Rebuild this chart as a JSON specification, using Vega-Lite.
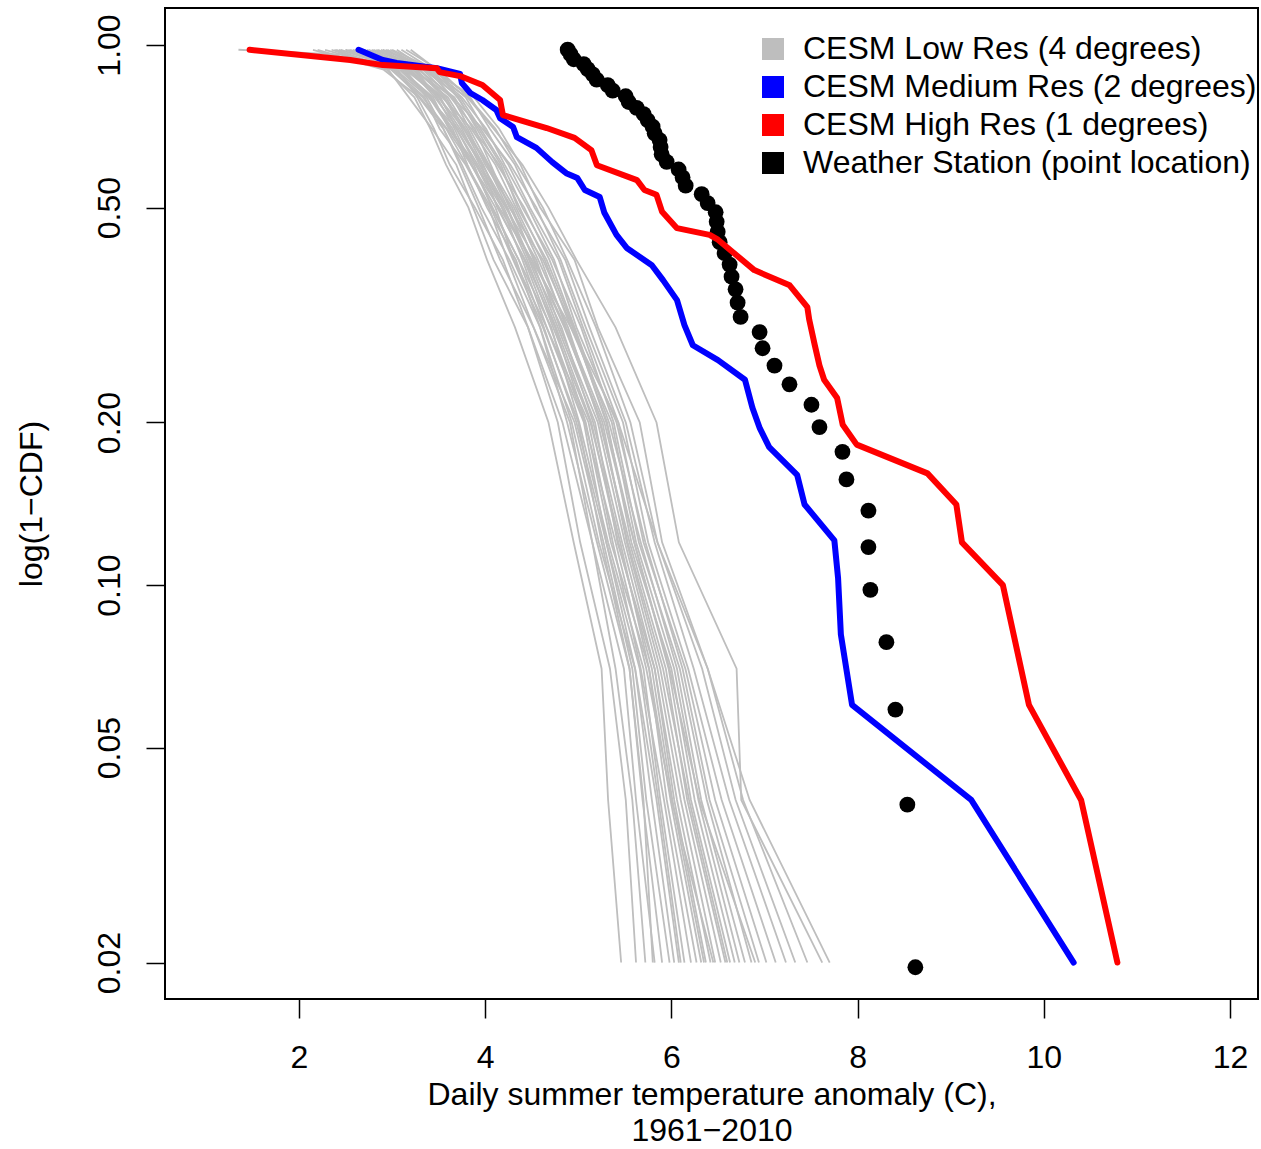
{
"$schema":"https://vega.github.io/schema/vega-lite/v6.json",
"width":1093,"height":991,
"autosize":{"type":"none"},
"padding":{"left":165,"top":8,"right":3,"bottom":150},
"background":"white",
"config":{
"view":{"stroke":"black","strokeWidth":2},
"font":"Liberation Sans",
"axis":{"domain":false,"grid":false,"tickColor":"black","tickWidth":1.5,"tickSize":19,"labelFont":"Liberation Sans","labelFontSize":32,"labelColor":"black","titleFont":"Liberation Sans","titleFontSize":32,"titleFontWeight":"normal","titleColor":"black","labelOverlap":false,"labelFlush":false,"labelBound":false}
},
"datasets":{
"gray":[
{"m":1,"x":2.20,"y":0.98},{"m":1,"x":2.94,"y":0.90},{"m":1,"x":3.24,"y":0.80},{"m":1,"x":3.41,"y":0.70},{"m":1,"x":3.58,"y":0.60},{"m":1,"x":3.82,"y":0.50},{"m":1,"x":4.02,"y":0.40},{"m":1,"x":4.32,"y":0.30},{"m":1,"x":4.68,"y":0.20},{"m":1,"x":4.95,"y":0.12},{"m":1,"x":5.25,"y":0.07},{"m":1,"x":5.32,"y":0.04},{"m":1,"x":5.46,"y":0.02},
{"m":2,"x":2.35,"y":0.98},{"m":2,"x":2.96,"y":0.90},{"m":2,"x":3.18,"y":0.80},{"m":2,"x":3.43,"y":0.70},{"m":2,"x":3.69,"y":0.60},{"m":2,"x":3.87,"y":0.50},{"m":2,"x":4.09,"y":0.40},{"m":2,"x":4.46,"y":0.30},{"m":2,"x":4.78,"y":0.20},{"m":2,"x":5.02,"y":0.12},{"m":2,"x":5.34,"y":0.07},{"m":2,"x":5.51,"y":0.04},{"m":2,"x":5.62,"y":0.02},
{"m":3,"x":2.53,"y":0.98},{"m":3,"x":3.06,"y":0.90},{"m":3,"x":3.27,"y":0.80},{"m":3,"x":3.45,"y":0.70},{"m":3,"x":3.62,"y":0.60},{"m":3,"x":3.89,"y":0.50},{"m":3,"x":4.19,"y":0.40},{"m":3,"x":4.46,"y":0.30},{"m":3,"x":4.83,"y":0.20},{"m":3,"x":5.15,"y":0.12},{"m":3,"x":5.40,"y":0.07},{"m":3,"x":5.58,"y":0.04},{"m":3,"x":5.72,"y":0.02},
{"m":4,"x":2.15,"y":0.98},{"m":4,"x":2.91,"y":0.90},{"m":4,"x":3.29,"y":0.80},{"m":4,"x":3.55,"y":0.70},{"m":4,"x":3.73,"y":0.60},{"m":4,"x":3.93,"y":0.50},{"m":4,"x":4.16,"y":0.40},{"m":4,"x":4.52,"y":0.30},{"m":4,"x":4.91,"y":0.20},{"m":4,"x":5.15,"y":0.12},{"m":4,"x":5.49,"y":0.07},{"m":4,"x":5.62,"y":0.04},{"m":4,"x":5.82,"y":0.02},
{"m":5,"x":2.70,"y":0.98},{"m":5,"x":3.14,"y":0.90},{"m":5,"x":3.37,"y":0.80},{"m":5,"x":3.55,"y":0.70},{"m":5,"x":3.75,"y":0.60},{"m":5,"x":3.96,"y":0.50},{"m":5,"x":4.26,"y":0.40},{"m":5,"x":4.59,"y":0.30},{"m":5,"x":4.88,"y":0.20},{"m":5,"x":5.20,"y":0.12},{"m":5,"x":5.55,"y":0.07},{"m":5,"x":5.69,"y":0.04},{"m":5,"x":5.90,"y":0.02},
{"m":6,"x":2.40,"y":0.98},{"m":6,"x":3.02,"y":0.90},{"m":6,"x":3.35,"y":0.80},{"m":6,"x":3.51,"y":0.70},{"m":6,"x":3.79,"y":0.60},{"m":6,"x":4.04,"y":0.50},{"m":6,"x":4.24,"y":0.40},{"m":6,"x":4.52,"y":0.30},{"m":6,"x":4.96,"y":0.20},{"m":6,"x":5.27,"y":0.12},{"m":6,"x":5.58,"y":0.07},{"m":6,"x":5.73,"y":0.04},{"m":6,"x":5.98,"y":0.02},
{"m":7,"x":2.58,"y":0.98},{"m":7,"x":3.12,"y":0.90},{"m":7,"x":3.41,"y":0.80},{"m":7,"x":3.65,"y":0.70},{"m":7,"x":3.81,"y":0.60},{"m":7,"x":4.02,"y":0.50},{"m":7,"x":4.33,"y":0.40},{"m":7,"x":4.59,"y":0.30},{"m":7,"x":4.93,"y":0.20},{"m":7,"x":5.22,"y":0.12},{"m":7,"x":5.61,"y":0.07},{"m":7,"x":5.79,"y":0.04},{"m":7,"x":6.03,"y":0.02},
{"m":8,"x":2.85,"y":0.98},{"m":8,"x":3.25,"y":0.90},{"m":8,"x":3.48,"y":0.80},{"m":8,"x":3.67,"y":0.70},{"m":8,"x":3.85,"y":0.60},{"m":8,"x":4.11,"y":0.50},{"m":8,"x":4.31,"y":0.40},{"m":8,"x":4.66,"y":0.30},{"m":8,"x":5.06,"y":0.20},{"m":8,"x":5.30,"y":0.12},{"m":8,"x":5.61,"y":0.07},{"m":8,"x":5.84,"y":0.04},{"m":8,"x":6.08,"y":0.02},
{"m":9,"x":2.45,"y":0.98},{"m":9,"x":3.10,"y":0.90},{"m":9,"x":3.44,"y":0.80},{"m":9,"x":3.61,"y":0.70},{"m":9,"x":3.88,"y":0.60},{"m":9,"x":4.07,"y":0.50},{"m":9,"x":4.36,"y":0.40},{"m":9,"x":4.71,"y":0.30},{"m":9,"x":5.01,"y":0.20},{"m":9,"x":5.32,"y":0.12},{"m":9,"x":5.70,"y":0.07},{"m":9,"x":5.88,"y":0.04},{"m":9,"x":6.14,"y":0.02},
{"m":10,"x":2.28,"y":0.98},{"m":10,"x":3.04,"y":0.90},{"m":10,"x":3.39,"y":0.80},{"m":10,"x":3.69,"y":0.70},{"m":10,"x":3.90,"y":0.60},{"m":10,"x":4.18,"y":0.50},{"m":10,"x":4.40,"y":0.40},{"m":10,"x":4.66,"y":0.30},{"m":10,"x":5.11,"y":0.20},{"m":10,"x":5.37,"y":0.12},{"m":10,"x":5.67,"y":0.07},{"m":10,"x":5.92,"y":0.04},{"m":10,"x":6.21,"y":0.02},
{"m":11,"x":2.75,"y":0.98},{"m":11,"x":3.20,"y":0.90},{"m":11,"x":3.46,"y":0.80},{"m":11,"x":3.71,"y":0.70},{"m":11,"x":3.96,"y":0.60},{"m":11,"x":4.13,"y":0.50},{"m":11,"x":4.43,"y":0.40},{"m":11,"x":4.75,"y":0.30},{"m":11,"x":5.08,"y":0.20},{"m":11,"x":5.35,"y":0.12},{"m":11,"x":5.76,"y":0.07},{"m":11,"x":5.95,"y":0.04},{"m":11,"x":6.27,"y":0.02},
{"m":12,"x":2.63,"y":0.98},{"m":12,"x":3.17,"y":0.90},{"m":12,"x":3.52,"y":0.80},{"m":12,"x":3.69,"y":0.70},{"m":12,"x":3.92,"y":0.60},{"m":12,"x":4.20,"y":0.50},{"m":12,"x":4.45,"y":0.40},{"m":12,"x":4.73,"y":0.30},{"m":12,"x":5.13,"y":0.20},{"m":12,"x":5.45,"y":0.12},{"m":12,"x":5.76,"y":0.07},{"m":12,"x":5.99,"y":0.04},{"m":12,"x":6.32,"y":0.02},
{"m":13,"x":2.95,"y":0.98},{"m":13,"x":3.30,"y":0.90},{"m":13,"x":3.58,"y":0.80},{"m":13,"x":3.77,"y":0.70},{"m":13,"x":3.98,"y":0.60},{"m":13,"x":4.18,"y":0.50},{"m":13,"x":4.50,"y":0.40},{"m":13,"x":4.78,"y":0.30},{"m":13,"x":5.18,"y":0.20},{"m":13,"x":5.42,"y":0.12},{"m":13,"x":5.82,"y":0.07},{"m":13,"x":6.03,"y":0.04},{"m":13,"x":6.37,"y":0.02},
{"m":14,"x":2.50,"y":0.98},{"m":14,"x":3.15,"y":0.90},{"m":14,"x":3.50,"y":0.80},{"m":14,"x":3.77,"y":0.70},{"m":14,"x":4.02,"y":0.60},{"m":14,"x":4.24,"y":0.50},{"m":14,"x":4.48,"y":0.40},{"m":14,"x":4.82,"y":0.30},{"m":14,"x":5.16,"y":0.20},{"m":14,"x":5.47,"y":0.12},{"m":14,"x":5.82,"y":0.07},{"m":14,"x":6.06,"y":0.04},{"m":14,"x":6.42,"y":0.02},
{"m":15,"x":2.78,"y":0.98},{"m":15,"x":3.26,"y":0.90},{"m":15,"x":3.56,"y":0.80},{"m":15,"x":3.75,"y":0.70},{"m":15,"x":3.94,"y":0.60},{"m":15,"x":4.22,"y":0.50},{"m":15,"x":4.55,"y":0.40},{"m":15,"x":4.80,"y":0.30},{"m":15,"x":5.21,"y":0.20},{"m":15,"x":5.50,"y":0.12},{"m":15,"x":5.85,"y":0.07},{"m":15,"x":6.10,"y":0.04},{"m":15,"x":6.47,"y":0.02},
{"m":16,"x":2.65,"y":0.98},{"m":16,"x":3.23,"y":0.90},{"m":16,"x":3.60,"y":0.80},{"m":16,"x":3.81,"y":0.70},{"m":16,"x":4.00,"y":0.60},{"m":16,"x":4.29,"y":0.50},{"m":16,"x":4.52,"y":0.40},{"m":16,"x":4.85,"y":0.30},{"m":16,"x":5.26,"y":0.20},{"m":16,"x":5.52,"y":0.12},{"m":16,"x":5.88,"y":0.07},{"m":16,"x":6.14,"y":0.04},{"m":16,"x":6.53,"y":0.02},
{"m":17,"x":3.05,"y":0.98},{"m":17,"x":3.38,"y":0.90},{"m":17,"x":3.65,"y":0.80},{"m":17,"x":3.83,"y":0.70},{"m":17,"x":4.04,"y":0.60},{"m":17,"x":4.31,"y":0.50},{"m":17,"x":4.57,"y":0.40},{"m":17,"x":4.89,"y":0.30},{"m":17,"x":5.23,"y":0.20},{"m":17,"x":5.55,"y":0.12},{"m":17,"x":5.94,"y":0.07},{"m":17,"x":6.17,"y":0.04},{"m":17,"x":6.58,"y":0.02},
{"m":18,"x":2.43,"y":0.98},{"m":18,"x":3.14,"y":0.90},{"m":18,"x":3.54,"y":0.80},{"m":18,"x":3.85,"y":0.70},{"m":18,"x":4.11,"y":0.60},{"m":18,"x":4.33,"y":0.50},{"m":18,"x":4.60,"y":0.40},{"m":18,"x":4.87,"y":0.30},{"m":18,"x":5.28,"y":0.20},{"m":18,"x":5.60,"y":0.12},{"m":18,"x":5.97,"y":0.07},{"m":18,"x":6.21,"y":0.04},{"m":18,"x":6.63,"y":0.02},
{"m":19,"x":2.88,"y":0.98},{"m":19,"x":3.33,"y":0.90},{"m":19,"x":3.63,"y":0.80},{"m":19,"x":3.89,"y":0.70},{"m":19,"x":4.06,"y":0.60},{"m":19,"x":4.26,"y":0.50},{"m":19,"x":4.62,"y":0.40},{"m":19,"x":4.94,"y":0.30},{"m":19,"x":5.31,"y":0.20},{"m":19,"x":5.57,"y":0.12},{"m":19,"x":6.00,"y":0.07},{"m":19,"x":6.25,"y":0.04},{"m":19,"x":6.68,"y":0.02},
{"m":20,"x":2.73,"y":0.98},{"m":20,"x":3.28,"y":0.90},{"m":20,"x":3.67,"y":0.80},{"m":20,"x":3.87,"y":0.70},{"m":20,"x":4.15,"y":0.60},{"m":20,"x":4.37,"y":0.50},{"m":20,"x":4.64,"y":0.40},{"m":20,"x":4.92,"y":0.30},{"m":20,"x":5.36,"y":0.20},{"m":20,"x":5.62,"y":0.12},{"m":20,"x":6.03,"y":0.07},{"m":20,"x":6.29,"y":0.04},{"m":20,"x":6.73,"y":0.02},
{"m":21,"x":2.98,"y":0.98},{"m":21,"x":3.39,"y":0.90},{"m":21,"x":3.71,"y":0.80},{"m":21,"x":3.91,"y":0.70},{"m":21,"x":4.13,"y":0.60},{"m":21,"x":4.42,"y":0.50},{"m":21,"x":4.69,"y":0.40},{"m":21,"x":4.96,"y":0.30},{"m":21,"x":5.33,"y":0.20},{"m":21,"x":5.67,"y":0.12},{"m":21,"x":6.06,"y":0.07},{"m":21,"x":6.32,"y":0.04},{"m":21,"x":6.79,"y":0.02},
{"m":22,"x":2.80,"y":0.98},{"m":22,"x":3.34,"y":0.90},{"m":22,"x":3.73,"y":0.80},{"m":22,"x":3.95,"y":0.70},{"m":22,"x":4.19,"y":0.60},{"m":22,"x":4.40,"y":0.50},{"m":22,"x":4.72,"y":0.40},{"m":22,"x":5.03,"y":0.30},{"m":22,"x":5.38,"y":0.20},{"m":22,"x":5.65,"y":0.12},{"m":22,"x":6.09,"y":0.07},{"m":22,"x":6.38,"y":0.04},{"m":22,"x":6.86,"y":0.02},
{"m":23,"x":2.90,"y":0.98},{"m":23,"x":3.41,"y":0.90},{"m":23,"x":3.75,"y":0.80},{"m":23,"x":4.01,"y":0.70},{"m":23,"x":4.21,"y":0.60},{"m":23,"x":4.46,"y":0.50},{"m":23,"x":4.74,"y":0.40},{"m":23,"x":4.98,"y":0.30},{"m":23,"x":5.41,"y":0.20},{"m":23,"x":5.72,"y":0.12},{"m":23,"x":6.12,"y":0.07},{"m":23,"x":6.41,"y":0.04},{"m":23,"x":6.94,"y":0.02},
{"m":24,"x":3.10,"y":0.98},{"m":24,"x":3.44,"y":0.90},{"m":24,"x":3.79,"y":0.80},{"m":24,"x":3.99,"y":0.70},{"m":24,"x":4.25,"y":0.60},{"m":24,"x":4.48,"y":0.50},{"m":24,"x":4.79,"y":0.40},{"m":24,"x":5.05,"y":0.30},{"m":24,"x":5.43,"y":0.20},{"m":24,"x":5.70,"y":0.12},{"m":24,"x":6.15,"y":0.07},{"m":24,"x":6.47,"y":0.04},{"m":24,"x":7.02,"y":0.02},
{"m":25,"x":2.55,"y":0.98},{"m":25,"x":3.23,"y":0.90},{"m":25,"x":3.65,"y":0.80},{"m":25,"x":3.97,"y":0.70},{"m":25,"x":4.27,"y":0.60},{"m":25,"x":4.55,"y":0.50},{"m":25,"x":4.81,"y":0.40},{"m":25,"x":5.08,"y":0.30},{"m":25,"x":5.48,"y":0.20},{"m":25,"x":5.75,"y":0.12},{"m":25,"x":6.18,"y":0.07},{"m":25,"x":6.54,"y":0.04},{"m":25,"x":7.12,"y":0.02},
{"m":26,"x":3.00,"y":0.98},{"m":26,"x":3.46,"y":0.90},{"m":26,"x":3.84,"y":0.80},{"m":26,"x":4.05,"y":0.70},{"m":26,"x":4.32,"y":0.60},{"m":26,"x":4.53,"y":0.50},{"m":26,"x":4.86,"y":0.40},{"m":26,"x":5.12,"y":0.30},{"m":26,"x":5.51,"y":0.20},{"m":26,"x":5.82,"y":0.12},{"m":26,"x":6.24,"y":0.07},{"m":26,"x":6.62,"y":0.04},{"m":26,"x":7.23,"y":0.02},
{"m":27,"x":3.15,"y":0.98},{"m":27,"x":3.50,"y":0.90},{"m":27,"x":3.82,"y":0.80},{"m":27,"x":4.11,"y":0.70},{"m":27,"x":4.34,"y":0.60},{"m":27,"x":4.62,"y":0.50},{"m":27,"x":4.88,"y":0.40},{"m":27,"x":5.19,"y":0.30},{"m":27,"x":5.56,"y":0.20},{"m":27,"x":5.85,"y":0.12},{"m":27,"x":6.33,"y":0.07},{"m":27,"x":6.69,"y":0.04},{"m":27,"x":7.33,"y":0.02},
{"m":28,"x":2.93,"y":0.98},{"m":28,"x":3.42,"y":0.90},{"m":28,"x":3.88,"y":0.80},{"m":28,"x":4.15,"y":0.70},{"m":28,"x":4.38,"y":0.60},{"m":28,"x":4.59,"y":0.50},{"m":28,"x":4.96,"y":0.40},{"m":28,"x":5.21,"y":0.30},{"m":28,"x":5.66,"y":0.20},{"m":28,"x":5.90,"y":0.12},{"m":28,"x":6.39,"y":0.07},{"m":28,"x":6.77,"y":0.04},{"m":28,"x":7.46,"y":0.02},
{"m":29,"x":2.83,"y":0.98},{"m":29,"x":3.36,"y":0.90},{"m":29,"x":3.81,"y":0.80},{"m":29,"x":4.09,"y":0.70},{"m":29,"x":4.40,"y":0.60},{"m":29,"x":4.68,"y":0.50},{"m":29,"x":4.98,"y":0.40},{"m":29,"x":5.40,"y":0.30},{"m":29,"x":5.84,"y":0.20},{"m":29,"x":6.08,"y":0.12},{"m":29,"x":6.70,"y":0.07},{"m":29,"x":6.75,"y":0.04},{"m":29,"x":7.62,"y":0.02},
{"m":30,"x":1.35,"y":0.98},{"m":30,"x":2.45,"y":0.96},{"m":30,"x":2.99,"y":0.90},{"m":30,"x":3.33,"y":0.80},{"m":30,"x":3.59,"y":0.70},{"m":30,"x":3.85,"y":0.60},{"m":30,"x":4.15,"y":0.50},{"m":30,"x":4.50,"y":0.40},{"m":30,"x":4.92,"y":0.30},{"m":30,"x":5.43,"y":0.20},{"m":30,"x":5.85,"y":0.12},{"m":30,"x":6.39,"y":0.07},{"m":30,"x":6.84,"y":0.04},{"m":30,"x":7.70,"y":0.02},
{"m":31,"x":2.60,"y":0.98},{"m":31,"x":3.10,"y":0.90},{"m":31,"x":3.42,"y":0.80},{"m":31,"x":3.63,"y":0.70},{"m":31,"x":3.86,"y":0.60},{"m":31,"x":4.08,"y":0.50},{"m":31,"x":4.36,"y":0.40},{"m":31,"x":4.63,"y":0.30},{"m":31,"x":4.98,"y":0.20},{"m":31,"x":5.30,"y":0.12},{"m":31,"x":5.66,"y":0.07},{"m":31,"x":5.86,"y":0.04},{"m":31,"x":6.10,"y":0.02},
{"m":32,"x":2.90,"y":0.98},{"m":32,"x":3.22,"y":0.90},{"m":32,"x":3.50,"y":0.80},{"m":32,"x":3.73,"y":0.70},{"m":32,"x":3.97,"y":0.60},{"m":32,"x":4.23,"y":0.50},{"m":32,"x":4.47,"y":0.40},{"m":32,"x":4.76,"y":0.30},{"m":32,"x":5.14,"y":0.20},{"m":32,"x":5.43,"y":0.12},{"m":32,"x":5.79,"y":0.07},{"m":32,"x":6.01,"y":0.04},{"m":32,"x":6.35,"y":0.02},
{"m":33,"x":2.68,"y":0.98},{"m":33,"x":3.18,"y":0.90},{"m":33,"x":3.55,"y":0.80},{"m":33,"x":3.79,"y":0.70},{"m":33,"x":4.03,"y":0.60},{"m":33,"x":4.27,"y":0.50},{"m":33,"x":4.53,"y":0.40},{"m":33,"x":4.86,"y":0.30},{"m":33,"x":5.24,"y":0.20},{"m":33,"x":5.53,"y":0.12},{"m":33,"x":5.91,"y":0.07},{"m":33,"x":6.19,"y":0.04},{"m":33,"x":6.60,"y":0.02},
{"m":34,"x":2.38,"y":0.98},{"m":34,"x":3.00,"y":0.90},{"m":34,"x":3.30,"y":0.80},{"m":34,"x":3.58,"y":0.70},{"m":34,"x":3.80,"y":0.60},{"m":34,"x":4.06,"y":0.50},{"m":34,"x":4.30,"y":0.40},{"m":34,"x":4.62,"y":0.30},{"m":34,"x":5.00,"y":0.20},{"m":34,"x":5.25,"y":0.12},{"m":34,"x":5.55,"y":0.07},{"m":34,"x":5.70,"y":0.04},{"m":34,"x":5.80,"y":0.02},
{"m":35,"x":3.20,"y":0.98},{"m":35,"x":3.48,"y":0.90},{"m":35,"x":3.70,"y":0.80},{"m":35,"x":3.93,"y":0.70},{"m":35,"x":4.17,"y":0.60},{"m":35,"x":4.35,"y":0.50},{"m":35,"x":4.66,"y":0.40},{"m":35,"x":4.95,"y":0.30},{"m":35,"x":5.30,"y":0.20},{"m":35,"x":5.60,"y":0.12},{"m":35,"x":5.98,"y":0.07},{"m":35,"x":6.30,"y":0.04},{"m":35,"x":6.90,"y":0.02},
{"m":36,"x":2.50,"y":0.98},{"m":36,"x":3.08,"y":0.90},{"m":36,"x":3.40,"y":0.80},{"m":36,"x":3.62,"y":0.70},{"m":36,"x":3.90,"y":0.60},{"m":36,"x":4.14,"y":0.50},{"m":36,"x":4.42,"y":0.40},{"m":36,"x":4.70,"y":0.30},{"m":36,"x":5.07,"y":0.20},{"m":36,"x":5.40,"y":0.12},{"m":36,"x":5.73,"y":0.07},{"m":36,"x":6.00,"y":0.04},{"m":36,"x":6.45,"y":0.02}
],
"blue":[
{"x":2.64,"y":0.98},{"x":2.90,"y":0.938},{"x":3.05,"y":0.926},{"x":3.48,"y":0.906},{"x":3.73,"y":0.884},{"x":3.75,"y":0.850},{"x":3.84,"y":0.815},{"x":3.97,"y":0.791},{"x":4.12,"y":0.758},{"x":4.16,"y":0.732},{"x":4.30,"y":0.705},{"x":4.34,"y":0.675},{"x":4.55,"y":0.645},{"x":4.72,"y":0.607},{"x":4.87,"y":0.579},{"x":4.99,"y":0.567},{"x":5.07,"y":0.539},{"x":5.23,"y":0.523},{"x":5.28,"y":0.489},{"x":5.41,"y":0.445},{"x":5.52,"y":0.421},{"x":5.79,"y":0.391},{"x":5.91,"y":0.367},{"x":6.06,"y":0.337},{"x":6.14,"y":0.303},{"x":6.23,"y":0.278},{"x":6.50,"y":0.261},{"x":6.79,"y":0.240},{"x":6.87,"y":0.213},{"x":6.95,"y":0.195},{"x":7.05,"y":0.180},{"x":7.35,"y":0.160},{"x":7.43,"y":0.141},{"x":7.75,"y":0.121},{"x":7.79,"y":0.103},{"x":7.82,"y":0.081},{"x":7.94,"y":0.060},{"x":9.22,"y":0.040},{"x":10.32,"y":0.020}
],
"red":[
{"x":1.47,"y":0.98},{"x":2.55,"y":0.938},{"x":2.90,"y":0.918},{"x":3.48,"y":0.906},{"x":3.51,"y":0.891},{"x":3.73,"y":0.876},{"x":3.97,"y":0.843},{"x":4.16,"y":0.791},{"x":4.19,"y":0.742},{"x":4.66,"y":0.702},{"x":4.96,"y":0.673},{"x":5.14,"y":0.639},{"x":5.20,"y":0.599},{"x":5.63,"y":0.562},{"x":5.71,"y":0.539},{"x":5.84,"y":0.528},{"x":5.90,"y":0.491},{"x":6.06,"y":0.458},{"x":6.41,"y":0.445},{"x":6.50,"y":0.436},{"x":6.89,"y":0.383},{"x":7.27,"y":0.359},{"x":7.46,"y":0.327},{"x":7.48,"y":0.310},{"x":7.54,"y":0.278},{"x":7.59,"y":0.255},{"x":7.64,"y":0.240},{"x":7.78,"y":0.222},{"x":7.84,"y":0.198},{"x":7.99,"y":0.182},{"x":8.75,"y":0.161},{"x":9.06,"y":0.141},{"x":9.12,"y":0.120},{"x":9.56,"y":0.100},{"x":9.84,"y":0.060},{"x":10.40,"y":0.040},{"x":10.79,"y":0.020}
],
"station":[
{"s":"stn","x":4.886,"y":0.9804},{"s":"stn","x":4.918,"y":0.9608},{"s":"stn","x":4.951,"y":0.9412},{"s":"stn","x":5.058,"y":0.9216},{"s":"stn","x":5.101,"y":0.9020},{"s":"stn","x":5.155,"y":0.8824},{"s":"stn","x":5.197,"y":0.8627},{"s":"stn","x":5.316,"y":0.8431},{"s":"stn","x":5.369,"y":0.8235},{"s":"stn","x":5.509,"y":0.8039},{"s":"stn","x":5.541,"y":0.7843},{"s":"stn","x":5.627,"y":0.7647},{"s":"stn","x":5.702,"y":0.7451},{"s":"stn","x":5.745,"y":0.7255},{"s":"stn","x":5.798,"y":0.7059},{"s":"stn","x":5.820,"y":0.6863},{"s":"stn","x":5.873,"y":0.6667},{"s":"stn","x":5.884,"y":0.6471},{"s":"stn","x":5.895,"y":0.6275},{"s":"stn","x":5.949,"y":0.6078},{"s":"stn","x":6.077,"y":0.5882},{"s":"stn","x":6.120,"y":0.5686},{"s":"stn","x":6.153,"y":0.5490},{"s":"stn","x":6.325,"y":0.5294},{"s":"stn","x":6.389,"y":0.5098},{"s":"stn","x":6.475,"y":0.4902},{"s":"stn","x":6.486,"y":0.4706},{"s":"stn","x":6.497,"y":0.4510},{"s":"stn","x":6.518,"y":0.4314},{"s":"stn","x":6.571,"y":0.4118},{"s":"stn","x":6.625,"y":0.3922},{"s":"stn","x":6.646,"y":0.3725},{"s":"stn","x":6.689,"y":0.3529},{"s":"stn","x":6.711,"y":0.3333},{"s":"stn","x":6.743,"y":0.3137},{"s":"stn","x":6.947,"y":0.2941},{"s":"stn","x":6.979,"y":0.2745},{"s":"stn","x":7.107,"y":0.2549},{"s":"stn","x":7.268,"y":0.2353},{"s":"stn","x":7.504,"y":0.2157},{"s":"stn","x":7.590,"y":0.1961},{"s":"stn","x":7.837,"y":0.1765},{"s":"stn","x":7.880,"y":0.1569},{"s":"stn","x":8.116,"y":0.1373},{"s":"stn","x":8.116,"y":0.1176},{"s":"stn","x":8.137,"y":0.0980},{"s":"stn","x":8.309,"y":0.0784},{"s":"stn","x":8.406,"y":0.0588},{"s":"stn","x":8.534,"y":0.0392},{"s":"stn","x":8.620,"y":0.0196}
]
},
"encoding":{
"x":{"field":"x","type":"quantitative","scale":{"domain":[0.561,12.3],"nice":false,"zero":false},
"axis":{"values":[2,4,6,8,10,12],"labelPadding":24,"title":["Daily summer temperature anomaly (C),","1961−2010"],"titleLineHeight":36,"titlePadding":6}},
"y":{"field":"y","type":"quantitative","scale":{"type":"log","domain":[0.01712,1.171],"nice":false},
"axis":{"values":[0.02,0.05,0.1,0.2,0.5,1],"format":".2f","labelAngle":-90,"labelAlign":"center","labelBaseline":"alphabetic","labelPadding":27,"title":"log(1−CDF)","titlePadding":45}}
},
"layer":[
{"data":{"name":"gray"},"mark":{"type":"line","color":"#BEBEBE","strokeWidth":1.8,"clip":true},
"encoding":{"detail":{"field":"m","type":"nominal"},"order":{"field":"y","sort":"descending"}}},
{"data":{"name":"blue"},"mark":{"type":"line","color":"#0000FF","strokeWidth":6,"strokeCap":"round","strokeJoin":"round","clip":true},
"encoding":{"order":{"field":"y","sort":"descending"}}},
{"data":{"name":"station"},"mark":{"type":"point","filled":true,"size":250,"opacity":1},
"encoding":{"color":{"field":"s","type":"nominal","scale":{"domain":["low","med","high","stn"],"range":["#BEBEBE","#0000FF","#FF0000","#000000"]},
"legend":{"orient":"none","legendX":592,"legendY":25,"title":null,"symbolType":"square","symbolSize":484,"symbolStrokeWidth":0,"symbolOpacity":1,"labelFontSize":32,"labelFont":"Liberation Sans","labelColor":"black","labelOffset":14,"rowPadding":6,"padding":0,"labelLimit":0,
"labelExpr":"datum.value == 'low' ? 'CESM Low Res (4 degrees)' : datum.value == 'med' ? 'CESM Medium Res (2 degrees)' : datum.value == 'high' ? 'CESM High Res (1 degrees)' : 'Weather Station (point location)'"}}}},
{"data":{"name":"red"},"mark":{"type":"line","color":"#FF0000","strokeWidth":6,"strokeCap":"round","strokeJoin":"round","clip":true},
"encoding":{"order":{"field":"y","sort":"descending"}}}
]
}
